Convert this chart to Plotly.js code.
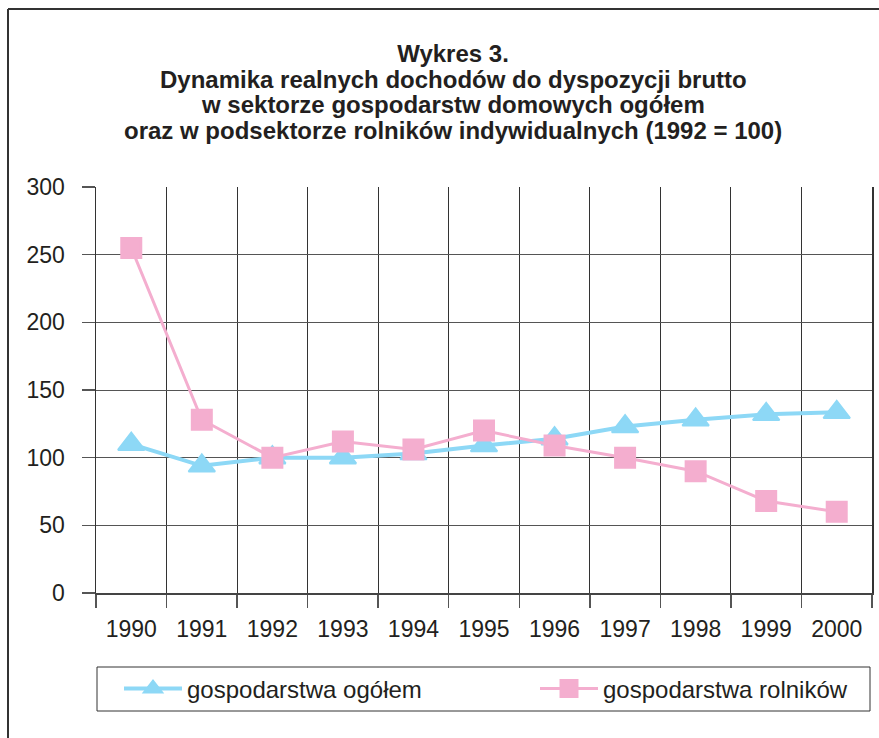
<!DOCTYPE html>
<html>
<head>
<meta charset="utf-8">
<script src="https://cdn.plot.ly/plotly-3.0.1.min.js"></script>
<style>
  html, body { margin: 0; padding: 0; background: #fff; }
  #chart { width: 879px; height: 738px; }
</style>
</head>
<body>
<div id="chart"></div>
<script>
var years = ['1990', '1991', '1992', '1993', '1994', '1995', '1996', '1997', '1998', '1999', '2000'];
var ogolem = [110, 94, 100, 100, 103, 109, 114, 123, 128, 132, 133.5];
var rolnikow = [255, 128, 100, 112, 106, 120, 109, 100, 90, 68, 60];
var yTicks = [0, 50, 100, 150, 200, 250, 300];
var seriesNames = ['gospodarstwa ogółem', 'gospodarstwa rolników'];
var titleText = 'Wykres 3.';
var subtitleLines = ['Dynamika realnych dochodów do dyspozycji brutto',
  'w sektorze gospodarstw domowych ogółem',
  'oraz w podsektorze rolników indywidualnych (1992 = 100)'];

var blue = '#8dd8f6';
var pink = '#f4aecf';
var ink = '#231f20';
var font = 'Liberation Sans, Arial, Helvetica, sans-serif';

var W = 879, H = 738;
var M = {l: 96, r: 7, t: 187, b: 145};
var PW = W - M.l - M.r, PH = H - M.t - M.b;
function px2x(px) { return (px - M.l) / PW; }
function px2y(py) { return (H - M.b - py) / PH; }

var traces = [
  {
    x: years, y: ogolem, name: seriesNames[0], type: 'scatter', mode: 'lines+markers',
    legend: 'legend',
    line: {color: blue, width: 4},
    marker: {symbol: 'triangle-up', size: 23, color: blue, line: {color: blue, width: 2}}
  },
  {
    x: years, y: rolnikow, name: seriesNames[1], type: 'scatter', mode: 'lines+markers',
    legend: 'legend2',
    line: {color: pink, width: 3},
    marker: {symbol: 'square', size: 19, color: pink, line: {color: pink, width: 3}}
  }
];

var titleFont = {family: font, size: 24, color: ink, weight: 'bold'};
var annotations = subtitleLines.map(function (t, i) {
  return {
    text: t, showarrow: false, xref: 'paper', yref: 'paper',
    x: px2x(453), xanchor: 'center',
    y: px2y(79 + 26 * i), yanchor: 'middle',
    font: titleFont
  };
});

function legendAt(xpx) {
  return {
    orientation: 'h',
    x: px2x(xpx), xanchor: 'left',
    y: px2y(689), yanchor: 'middle',
    bgcolor: 'rgba(0,0,0,0)', borderwidth: 0,
    font: {family: font, size: 24, color: ink},
    itemwidth: 58,
    itemsizing: 'trace'
  };
}

var layout = {
  width: W, height: H,
  paper_bgcolor: '#fff', plot_bgcolor: '#fff',
  margin: {l: M.l, r: M.r, t: M.t, b: M.b, autoexpand: false},
  font: {family: font, color: ink},
  showlegend: true,
  title: {
    text: titleText,
    font: titleFont,
    xref: 'paper', x: px2x(453), xanchor: 'center',
    yref: 'container', y: 1 - 54 / H, yanchor: 'middle'
  },
  annotations: annotations,
  xaxis: {
    type: 'category',
    range: [-0.5, 10.5],
    tickson: 'boundaries',
    ticks: 'outside', ticklen: 13, tickwidth: 1.5, tickcolor: '#555',
    showgrid: true, gridcolor: '#333', gridwidth: 1,
    showline: true, linecolor: '#444', linewidth: 2,
    tickfont: {family: font, size: 23, color: ink},
    ticklabelstandoff: 14,
    zeroline: false, fixedrange: true
  },
  yaxis: {
    range: [0, 300],
    tickvals: yTicks,
    ticks: 'outside', ticklen: 13, tickwidth: 1.5, tickcolor: '#555',
    showgrid: true, gridcolor: '#555', gridwidth: 1,
    showline: true, linecolor: '#333', linewidth: 1.5, mirror: true,
    tickfont: {family: font, size: 23, color: ink},
    ticklabelstandoff: 12,
    zeroline: false, fixedrange: true
  },
  legend: legendAt(119),
  legend2: legendAt(535),
  shapes: [
    {type: 'line', xref: 'paper', yref: 'paper', x0: px2x(8), x1: px2x(879), y0: px2y(9), y1: px2y(9),
     line: {color: '#333', width: 2}},
    {type: 'line', xref: 'paper', yref: 'paper', x0: px2x(8), x1: px2x(8), y0: px2y(9), y1: px2y(738),
     line: {color: '#333', width: 2}},
    {type: 'rect', xref: 'paper', yref: 'paper', x0: px2x(97), x1: px2x(870), y0: px2y(667), y1: px2y(711),
     line: {color: '#333', width: 1}, fillcolor: 'rgba(0,0,0,0)'}
  ]
};

Plotly.newPlot('chart', traces, layout, {displayModeBar: false, staticPlot: true});
</script>
</body>
</html>
